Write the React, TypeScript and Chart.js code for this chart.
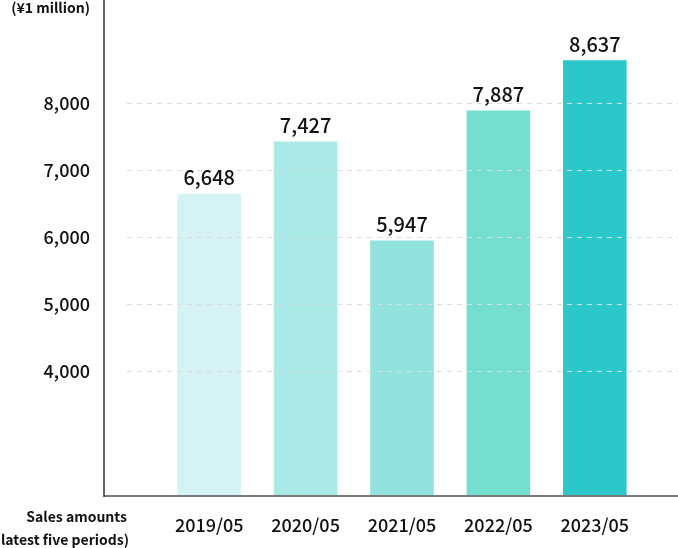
import React, { useEffect, useRef } from "react";
import { Chart, registerables } from "chart.js";

Chart.register(...registerables);

const categories = ["2019/05", "2020/05", "2021/05", "2022/05", "2023/05"];
const salesValues = [6648, 7427, 5947, 7887, 8637];
const barColors = ["#d5f2f4", "#aae9e6", "#92e3dd", "#74dfcf", "#2cc7c9"];
const yTickValues = [4000, 5000, 6000, 7000, 8000];
const unitLabel = "(¥1 million)";
const xTitleLines = ["Sales amounts", "(latest five periods)"];

const FONT = "'Noto Sans CJK JP', 'Noto Sans', sans-serif";

const overlayPlugin = {
  id: "overlay",
  afterDatasetsDraw(chart: any) {
    const { ctx, scales } = chart;
    const y = scales.y;
    const axisX = 104;
    const bottom = chart.chartArea.bottom;
    ctx.save();
    // dashed gridlines over bars
    ctx.strokeStyle = "#dcdcdc";
    ctx.lineWidth = 1;
    ctx.setLineDash([5, 5]);
    yTickValues.forEach((v) => {
      const py = Math.round(y.getPixelForValue(v)) + 0.5;
      ctx.beginPath();
      ctx.moveTo(127, py);
      ctx.lineTo(chart.width, py);
      ctx.stroke();
    });
    ctx.setLineDash([]);
    // y tick labels
    ctx.fillStyle = "#111111";
    ctx.font = `500 18px ${FONT}`;
    ctx.textAlign = "right";
    ctx.textBaseline = "middle";
    yTickValues.forEach((v) => {
      ctx.fillText(v.toLocaleString("en-US"), 90, y.getPixelForValue(v));
    });
    // x axis line
    ctx.strokeStyle = "#7a7a7a";
    ctx.lineWidth = 2;
    ctx.beginPath();
    ctx.moveTo(axisX, bottom + 1);
    ctx.lineTo(chart.width, bottom + 1);
    ctx.stroke();
    // y axis line
    ctx.strokeStyle = "#333333";
    ctx.lineWidth = 1.5;
    ctx.beginPath();
    ctx.moveTo(axisX, 0);
    ctx.lineTo(axisX, bottom + 2);
    ctx.stroke();
    // value labels
    ctx.fillStyle = "#111111";
    ctx.font = `500 20px ${FONT}`;
    ctx.textAlign = "center";
    ctx.textBaseline = "bottom";
    const meta = chart.getDatasetMeta(0);
    meta.data.forEach((bar: any, i: number) => {
      ctx.fillText(salesValues[i].toLocaleString("en-US"), bar.x, bar.y - 6);
    });
    // unit label and x title
    ctx.font = `bold 14px ${FONT}`;
    ctx.textAlign = "right";
    ctx.textBaseline = "middle";
    ctx.fillText(unitLabel, 90, 8);
    ctx.fillText(xTitleLines[0], 127, 517);
    ctx.fillText(xTitleLines[1], 129, 540);
    ctx.restore();
  },
};

export default function App() {
  const canvasRef = useRef<HTMLCanvasElement>(null);
  useEffect(() => {
    if (!canvasRef.current) return;
    const chart = new Chart(canvasRef.current, {
      type: "bar",
      data: {
        labels: categories,
        datasets: [
          {
            data: salesValues,
            backgroundColor: barColors,
            borderWidth: 0,
            barPercentage: 0.66,
            categoryPercentage: 1,
          },
        ],
      },
      options: {
        animation: false,
        responsive: false,
        maintainAspectRatio: false,
        layout: { padding: { left: 161, right: 35, top: 0, bottom: 0 } },
        plugins: { legend: { display: false }, tooltip: { enabled: false } },
        scales: {
          x: {
            grid: { display: false, drawTicks: false },
            border: { display: false },
            ticks: { color: "#111", font: { family: FONT, size: 18, weight: "500" }, padding: 19, maxRotation: 0 },
            afterFit: (s: any) => {
              s.height = 53;
            },
          },
          y: {
            display: false,
            min: 2150,
            max: 9538,
          },
        },
      },
      plugins: [overlayPlugin],
    });
    return () => chart.destroy();
  }, []);
  return (
    <div style={{ position: "fixed", left: 0, top: 0, width: 678, height: 548, background: "#fff" }}>
      <canvas ref={canvasRef} width={678} height={548} style={{ width: 678, height: 548 }} />
    </div>
  );
}
